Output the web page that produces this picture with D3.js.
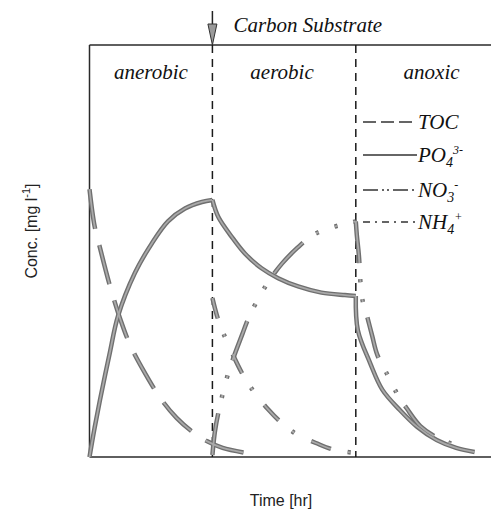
<!DOCTYPE html>
<html>
<head>
<meta charset="utf-8">
<script src="https://cdn.jsdelivr.net/npm/d3@7"></script>
<style>
  body { margin: 0; background: #fff; }
  svg { display: block; }
</style>
</head>
<body>
<svg id="chart" width="491" height="525"></svg>
<script>
// time in minutes, concentration in relative units (0-100)
var phaseNames = ["anerobic", "aerobic", "anoxic"];
var phaseStarts = [0, 120, 260];
var phaseLabelTimes = [60, 188, 334];
var carbonTime = 120;

var tocTime = [0, 5, 10, 20, 30, 40, 55, 70, 85, 100, 115, 130, 152];
var tocConc = [65, 56, 51, 41.5, 33.5, 27, 20, 14, 9.5, 6.2, 3.8, 2.2, 1.0];

var po4AnaerTime = [0, 4.4, 10.2, 20, 27.8, 44.4, 61, 76.6, 93.2, 109.8, 120];
var po4AnaerConc = [0, 6.3, 13.8, 25.5, 34.2, 44.7, 51.9, 57.2, 60.3, 61.9, 62.4];
var po4AerTime = [120, 125.7, 138.7, 151.7, 168, 184.2, 203.7, 226.5, 249.3, 260];
var po4AerConc = [62.4, 58.3, 53.5, 49.4, 45.8, 43.4, 41.4, 39.9, 39.3, 39.1];
var po4AnoxTime = [260, 262, 274, 286, 303, 320, 339, 358, 376];
var po4AnoxConc = [39.1, 30.8, 22.8, 16.3, 11.4, 7.3, 4.1, 2.2, 1.2];

var no3AerTime = [120, 122.4, 125.7, 135.4, 149.5, 156.6, 169.6, 176.1, 188.1, 203.1, 218.3, 237.6, 260];
var no3AerConc = [0.5, 6.1, 10.6, 20.3, 30, 34.5, 40.5, 43.1, 47, 50.8, 53.9, 55.8, 57.2];
var no3AnoxTime = [260, 261, 263, 266, 271, 276, 281, 291, 300, 310, 323, 340, 352, 364];
var no3AnoxConc = [57.2, 53.9, 49, 38.8, 34.2, 29.4, 24.8, 19.9, 15.5, 11.7, 7.5, 4.6, 3.4, 2.4];

var nh4AerTime = [120, 125.7, 134.8, 151, 162.1, 173.9, 187.5, 203.7, 221, 239.5, 259];
var nh4AerConc = [38.6, 33.3, 27.7, 19.4, 15.3, 11.7, 8.3, 5.3, 3.4, 1.7, 1.0];

var seriesKeys = ["TOC", "PO4", "NO3", "NH4"];

// line styles per series
var dashes = {
  TOC: "40,17",
  PO4: null,
  NO3: "42,16,3,17,3,16",
  NH4: "21,17,3,19"
};
var legendDashes = {
  TOC: "13,5",
  PO4: null,
  NO3: "15,4,2,3,2,4",
  NH4: "7,5,2,5"
};

function zipSeries(key, t, c) {
  var pts = [];
  for (var i = 0; i < t.length; i++) pts.push({t: t[i], c: c[i]});
  return {key: key, values: pts};
}

var segments = [
  zipSeries("TOC", tocTime, tocConc),
  zipSeries("PO4", po4AnaerTime, po4AnaerConc),
  zipSeries("PO4", po4AerTime, po4AerConc),
  zipSeries("PO4", po4AnoxTime, po4AnoxConc),
  zipSeries("NO3", no3AerTime, no3AerConc),
  zipSeries("NO3", no3AnoxTime, no3AnoxConc),
  zipSeries("NH4", nh4AerTime, nh4AerConc)
];

var svg = d3.select("#chart");
var plotLeft = 89.5, plotRight = 491, plotTop = 45, plotBottom = 457;

var x = d3.scaleLinear().domain([0, 392]).range([plotLeft, plotRight]);
var y = d3.scaleLinear().domain([0, 100]).range([plotBottom, plotTop]);

svg.append("rect").attr("width", 491).attr("height", 525).attr("fill", "#fff");

var serif = "'Liberation Serif', 'Times New Roman', serif";
var sans = "'Liberation Sans', Arial, sans-serif";

// frame: top, left and bottom lines (no right edge)
var frame = svg.append("g").attr("stroke", "#2a2a2a").attr("stroke-width", 1.5);
frame.append("line").attr("x1", plotLeft).attr("x2", plotRight).attr("y1", plotTop).attr("y2", plotTop);
frame.append("line").attr("x1", plotLeft).attr("x2", plotLeft).attr("y1", plotTop).attr("y2", plotBottom);
frame.append("line").attr("x1", plotLeft).attr("x2", plotRight).attr("y1", plotBottom).attr("y2", plotBottom);

// phase boundaries
svg.selectAll("line.phase")
  .data(phaseStarts.slice(1))
  .enter()
  .append("line")
  .attr("class", "phase")
  .attr("x1", function(d) {return x(d)})
  .attr("x2", function(d) {return x(d)})
  .attr("y1", plotTop)
  .attr("y2", plotBottom)
  .attr("stroke", "#1a1a1a")
  .attr("stroke-width", 1.5)
  .attr("stroke-dasharray", "8,6");

// phase names
svg.selectAll("text.phase")
  .data(phaseNames)
  .enter()
  .append("text")
  .attr("class", "phase")
  .attr("x", function(d, i) {return x(phaseLabelTimes[i])})
  .attr("y", 79)
  .attr("text-anchor", "middle")
  .attr("font-family", serif)
  .attr("font-style", "italic")
  .attr("font-size", 21)
  .attr("fill", "#111")
  .text(function(d) {return d});

// carbon substrate arrow
var ax = x(carbonTime);
svg.append("line")
  .attr("x1", ax).attr("x2", ax).attr("y1", 11).attr("y2", 26)
  .attr("stroke", "#222").attr("stroke-width", 1.5);
svg.append("path")
  .attr("d", "M" + (ax - 4.5) + ",24L" + (ax + 4.5) + ",24L" + ax + "," + plotTop + "Z")
  .attr("fill", "#9a9a9a")
  .attr("stroke", "#333")
  .attr("stroke-width", 1);
svg.append("text")
  .attr("x", ax + 21)
  .attr("y", 32)
  .attr("font-family", serif)
  .attr("font-style", "italic")
  .attr("font-size", 21)
  .attr("fill", "#111")
  .text("Carbon Substrate");

// curves
var line = d3.line()
  .x(function(d) {return x(d.t)})
  .y(function(d) {return y(d.c)})
  .curve(d3.curveCatmullRom.alpha(0.5));

var curves = svg.append("g").attr("fill", "none");
curves.selectAll("path.outer")
  .data(segments)
  .enter()
  .append("path")
  .attr("class", "outer")
  .attr("d", function(d) {return line(d.values)})
  .attr("stroke", "#6f6f6f")
  .attr("stroke-width", 4.5)
  .attr("stroke-dasharray", function(d) {return dashes[d.key]});
curves.selectAll("path.inner")
  .data(segments)
  .enter()
  .append("path")
  .attr("class", "inner")
  .attr("d", function(d) {return line(d.values)})
  .attr("stroke", "#a9a9a9")
  .attr("stroke-width", 1.8)
  .attr("stroke-dasharray", function(d) {return dashes[d.key]});

// legend
var legendY = [122, 155, 190, 222];
var legend = svg.append("g");
var item = legend.selectAll("g")
  .data(seriesKeys)
  .enter()
  .append("g")
  .attr("transform", function(d, i) {return "translate(363," + legendY[i] + ")"});

item.append("line")
  .attr("x1", 0).attr("x2", 54)
  .attr("stroke", "#333")
  .attr("stroke-width", 1.3)
  .attr("stroke-dasharray", function(d) {return legendDashes[d]});

var labelParts = {
  TOC: [["TOC", 0, 21]],
  PO4: [["PO", 0, 21], ["4", 5, 14], ["3-", -13, 12]],
  NO3: [["NO", 0, 21], ["3", 5, 14], ["-", -13, 12]],
  NH4: [["NH", 0, 21], ["4", 5, 14], ["+", -13, 12]]
};

item.append("text")
  .attr("x", 55)
  .attr("y", 7)
  .attr("font-family", serif)
  .attr("font-style", "italic")
  .attr("fill", "#111")
  .each(function(d) {
    var t = d3.select(this);
    labelParts[d].forEach(function(p) {
      t.append("tspan").attr("dy", p[1]).attr("font-size", p[2]).text(p[0]);
    });
  });

// axis titles
svg.append("text")
  .attr("x", 281)
  .attr("y", 506)
  .attr("text-anchor", "middle")
  .attr("font-family", sans)
  .attr("font-size", 16)
  .attr("fill", "#222")
  .text("Time [hr]");

var yt = svg.append("text")
  .attr("transform", "translate(37,231) rotate(-90)")
  .attr("text-anchor", "middle")
  .attr("font-family", sans)
  .attr("font-size", 16)
  .attr("fill", "#222");
yt.append("tspan").text("Conc. [mg l");
yt.append("tspan").attr("dy", -7).attr("font-size", 11).text("-1");
yt.append("tspan").attr("dy", 7).text("]");
</script>
</body>
</html>
